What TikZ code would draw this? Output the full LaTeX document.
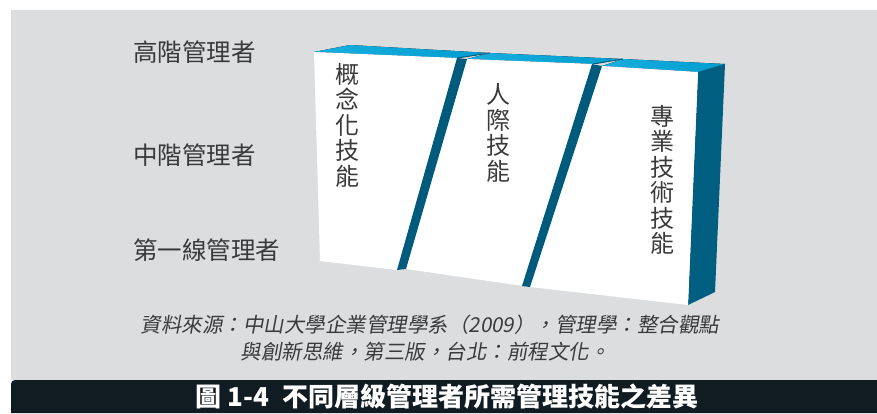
\documentclass[tikz,border=0pt]{standalone}
\usepackage{fontspec}
\newfontfamily\cjk{Noto Sans CJK TC}
\newfontfamily\cjkslant[FakeSlant=0.18]{Noto Sans CJK TC}
\definecolor{bggray}{HTML}{DCDDDF}
\definecolor{topblue}{HTML}{009ECF}
\definecolor{topbluel}{HTML}{19ADDF}
\definecolor{sideteal}{HTML}{005E80}
\definecolor{bandteal}{HTML}{005A7C}
\definecolor{txtgray}{HTML}{3A3A3A}
\definecolor{barblack}{HTML}{111C22}
\tikzset{
  level/.style={font=\cjk\fontsize{24.5}{26}\selectfont, text=txtgray, anchor=west, inner sep=0pt},
  vtext/.style={font=\cjk\fontsize{24}{25.5}\selectfont, text=txtgray, align=center, inner sep=0pt},
  caption/.style={font=\cjkslant\fontsize{20.5}{24}\selectfont, text=txtgray, inner sep=0pt},
  titletext/.style={font=\cjk\bfseries\fontsize{26}{28}\selectfont, text=white, inner sep=0pt},
  topface/.style={left color=topbluel, right color=topblue, draw=none},
  band/.style={fill=bandteal, draw=none},
}
\begin{document}
\begin{tikzpicture}[x=1pt,y=-1pt]
\useasboundingbox (0,0) rectangle (877,413);
\fill[white] (0,0) rectangle (877,413);
\fill[bggray] (11,10) rectangle (877,380);
\fill[barblack] (11,413) -- (11,384) to[out=90,in=180] (15,380) -- (877,380) -- (877,413) -- cycle;

% level labels
\node[level] (high) at (133,52) {高階管理者};
\node[level] (mid) at (133,155) {中階管理者};
\node[level] (low) at (133,250) {第一線管理者};

% top faces
\fill[topface] (314,52) -- (350,45) -- (490,53) -- (457,58) -- cycle;
\fill[topface] (467,59) -- (490,53) -- (623,59) -- (593,64) -- cycle;
\fill[topface] (602,66) -- (623,59) -- (725,64) -- (698,72) -- cycle;
\draw[bandteal, line width=1pt] (457,58) -- (490,53);
\draw[bandteal, line width=1pt] (593,64) -- (623,59);

% right side face
\fill[sideteal] (698,72) -- (725,64) -- (715,292) -- (688,305) -- cycle;

% front face
\fill[white] (314,52) -- (457,58) -- (467,59) -- (593,64) -- (602,66) -- (698,72)
  -- (688,305) -- (530,287) -- (523,286) -- (406,269) -- (397,270) -- (320,261) -- cycle;

% slanted bands
\fill[band] (457,58) -- (467,59) -- (406,269) -- (397,270) -- cycle;
\fill[band] (592,64) -- (602,66) -- (530,287) -- (522,286) -- cycle;

% vertical texts
\node[vtext] (concept) at (347,125) {概\\念\\化\\技\\能};
\node[vtext] (human) at (498,133) {人\\際\\技\\能};
\node[vtext] (tech) at (662,180) {專\\業\\技\\術\\技\\能};

% caption
\node[caption] (src1) at (430,325) {資料來源：中山大學企業管理學系（2009），管理學：整合觀點};
\node[caption] (src2) at (425,352) {與創新思維，第三版，台北：前程文化。};

% title
\node[titletext] (title) at (447,397) {圖 1-4\hspace{0.5em}不同層級管理者所需管理技能之差異};
\end{tikzpicture}
\end{document}
